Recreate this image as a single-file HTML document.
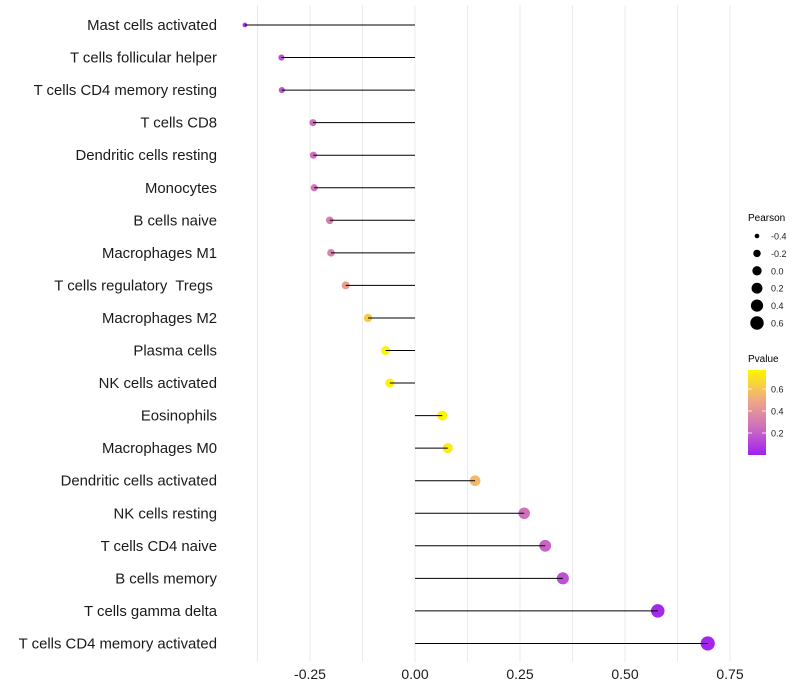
<!DOCTYPE html>
<html><head><meta charset="utf-8">
<style>
body{margin:0;background:#fff;}
svg{display:block;font-family:"Liberation Sans",sans-serif;}
text{white-space:pre;}
</style></head>
<body>
<svg id="chart" width="800" height="700">
<defs>
<linearGradient id="pgrad" x1="0" y1="1" x2="0" y2="0">
<stop offset="0" stop-color="#a020f0"/>
<stop offset="0.32" stop-color="#cd6ebe"/>
<stop offset="0.65" stop-color="#f0aa82"/>
<stop offset="1" stop-color="#fff500"/>
</linearGradient>
</defs>
<g id="grid"></g>
<g id="dots"></g>
<g id="marks"></g>
<g id="axes"></g>
<g id="sizeleg">
<text x="748" y="221" font-size="10">Pearson</text>
</g>
<g>
<text x="748" y="362" font-size="10">Pvalue</text>
<rect x="748" y="370" width="18" height="85" fill="url(#pgrad)"/>
<g id="cticks"></g>
</g>
</svg>
<script>
const categories=["Mast cells activated","T cells follicular helper","T cells CD4 memory resting","T cells CD8","Dendritic cells resting","Monocytes","B cells naive","Macrophages M1","T cells regulatory  Tregs ","Macrophages M2","Plasma cells","NK cells activated","Eosinophils","Macrophages M0","Dendritic cells activated","NK cells resting","T cells CD4 naive","B cells memory","T cells gamma delta","T cells CD4 memory activated"];
const pearson=[-0.405,-0.318,-0.317,-0.243,-0.242,-0.240,-0.203,-0.200,-0.165,-0.112,-0.070,-0.060,0.065,0.078,0.143,0.260,0.310,0.352,0.578,0.697];
const pvalue=[0.05,0.15,0.16,0.25,0.26,0.27,0.32,0.33,0.45,0.62,0.76,0.76,0.76,0.73,0.55,0.26,0.22,0.16,0.03,0.02];
const xTicks=[-0.25,0,0.25,0.5,0.75];
const xTickLabels=["-0.25","0.00","0.25","0.50","0.75"];
const sizeLegendVals=[-0.4,-0.2,0.0,0.2,0.4,0.6];
const colorLegendVals=[0.2,0.4,0.6];

const NS="http://www.w3.org/2000/svg";
const x=v=>415+v*420;
const y=i=>25+i*32.55;
const r=v=>6.6*Math.sqrt(Math.max(0.01,(v+0.5)/1.2));
const cStops=[[0,[160,32,240]],[0.25,[205,110,190]],[0.5,[240,170,130]],[0.77,[255,245,0]]];
function col(p){
  for(let k=0;k<cStops.length-1;k++){
    const [a,ca]=cStops[k],[b,cb]=cStops[k+1];
    if(p<=b||k===cStops.length-2){const t=Math.max(0,Math.min(1,(p-a)/(b-a)));
      return "rgb("+ca.map((c,j)=>Math.round(c+(cb[j]-c)*t)).join(",")+")";}
  }
}
function mk(tag,attrs,parent){const e=document.createElementNS(NS,tag);for(const k in attrs)e.setAttribute(k,attrs[k]);parent.appendChild(e);return e;}
const grid=document.getElementById('grid'),marks=document.getElementById('marks'),dots=document.getElementById('dots'),axes=document.getElementById('axes');
for(let v=-0.375;v<=0.76;v+=0.125){
  const g=mk('line',{x1:x(v),x2:x(v),y1:5,y2:662,stroke:'#ebebeb','stroke-width':1},grid);
  
  
}
categories.forEach((c,i)=>{
  const t=mk('text',{x:217,y:y(i)+5,'font-size':14.9,'text-anchor':'end',fill:'#1a1a1a'},axes);
  t.textContent=c;
  
  
  const d=mk('circle',{cx:x(pearson[i]),cy:y(i),r:r(pearson[i]),fill:col(pvalue[i]),stroke:col(pvalue[i]),'stroke-width':1},dots);
  
  
  const l=mk('line',{x1:x(0),x2:x(pearson[i]),y1:y(i),y2:y(i),stroke:'#000','stroke-width':1},marks);
  
  
});
xTicks.forEach((v,i)=>{
  const t=mk('text',{x:x(v),y:679,'font-size':14,'text-anchor':'middle',fill:'#1a1a1a'},axes);
  t.textContent=xTickLabels[i];
  
  
});
const sl=document.getElementById('sizeleg');
sizeLegendVals.forEach((v,i)=>{
  const cy=236+i*17.4;
  const c=mk('circle',{cx:757,cy:cy,r:r(v)+0.4,fill:'#000'},sl);
  
  
  const t=mk('text',{x:771,y:cy+3.5,'font-size':9,fill:'#1a1a1a'},sl);
  t.textContent=v.toFixed(1);
  
  
});
const ct=document.getElementById('cticks');
colorLegendVals.forEach(v=>{
  const cy=455-v*110;
  mk('line',{x1:748,x2:752,y1:cy,y2:cy,stroke:'#fff','stroke-width':0.8},ct);
  mk('line',{x1:762,x2:766,y1:cy,y2:cy,stroke:'#fff','stroke-width':0.8},ct);
  const t=mk('text',{x:771,y:cy+3.5,'font-size':9,fill:'#1a1a1a'},ct);
  t.textContent=v.toFixed(1);
  
  
});
</script>
</body></html>
